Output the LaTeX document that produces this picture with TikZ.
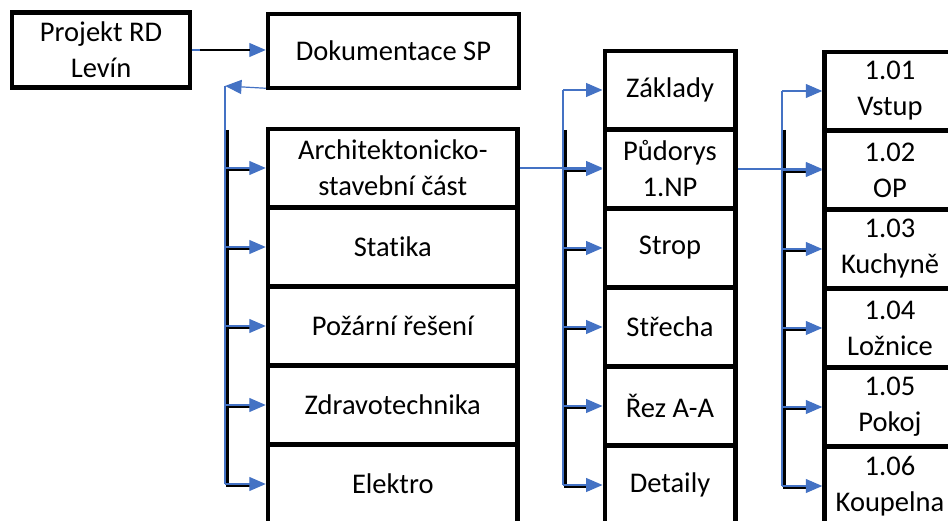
\documentclass[tikz,border=0pt]{standalone}
\usepackage{fontspec}
\setmainfont{Carlito}[Ligatures=NoCommon]
\usepackage{xcolor}
\usetikzlibrary{calc,
	positioning,
	arrows.meta}
\definecolor{linkblue}{HTML}{4472C4}

\begin{document}
\begin{tikzpicture}[x=1pt, y=-1pt,
                    box/.style={draw, line width=4.5pt, align=center, inner sep=0pt, font=\fontsize{28.5}{36}\selectfont},
                    link/.style={draw=linkblue, line width=1.2pt, -{Triangle[length=16.5pt,width=14pt,fill=linkblue]}},
                    trunk/.style={draw=linkblue, line width=1.2pt},
                    under/.style={draw=black, line width=2.6pt}]
                            \useasboundingbox (0,0) rectangle (948,521);
                            \node (proj) [box, minimum width=178pt, minimum height=75pt] at (101,50) {Projekt RD\\Levín};
                            \node (dok) [box, minimum width=251pt, minimum height=74pt] at (393.5,51) {Dokumentace SP};
                            \foreach \name/\txt [count=\i from 0] in {arch/{Architektonicko-\\stavební část}, statika/Statika, pozar/Požární řešení, zdravo/Zdravotechnika, elektro/Elektro}
                                \node (\name) [box, minimum width=249.5pt, minimum height=78pt] at (392.75,168+79*\i) {\txt};
                            \foreach \name/\txt [count=\i from 0] in {zaklady/Základy, pudorys/{Půdorys\\1.NP}, strop/Strop, strecha/Střecha, rez/Řez A-A, detaily/Detaily}
                                \node (\name) [box, minimum width=130.5pt, minimum height=78pt] at (670,90+79*\i) {\txt};
                            \foreach \num/\txt [count=\i from 0] in {01/Vstup, 02/OP, 03/Kuchyně, 04/Ložnice, 05/Pokoj, 06/Koupelna}
                                \node (m1\num) [box, minimum width=131pt, minimum height=78pt] at (890,91+79*\i) {1.\num\\\txt};
                            % top level
                            \draw[link] (proj.east) -- (proj.east -| dok.west);
                            \draw[under] ($(proj.east)+(8,0)$) -- ($(proj.east -| dok.west)+(-16,0)$);
                            % first column
                            \coordinate (trunkA) at (225,86);
                            \coordinate (blackA) at (227.5,130);
                            \draw[under] (blackA) -- ($(blackA |- elektro.west)+(0,3)$);
                            \foreach \name in {arch, statika, pozar, zdravo, elektro}
                                \draw[under] ($(blackA |- \name.west)+(0,2)$) -- ($(\name.west)+(-16,2)$);
                            \draw[link] ([yshift=2pt]dok.south west) -- (trunkA);
                            \draw[trunk] (trunkA) -- (trunkA |- elektro.west);
                            \foreach \name in {arch, statika, pozar, zdravo, elektro}
                                \draw[link] (trunkA |- \name.west) -- (\name.west);
                            % second column
                            \coordinate (trunkB) at (563,90);
                            \coordinate (blackB) at (565.5,130);
                            \draw[under] (blackB) -- ($(blackB |- detaily.west)+(0,3)$);
                            \foreach \name in {pudorys, strop, strecha, rez, detaily}
                                \draw[under] ($(blackB |- \name.west)+(0,2)$) -- ($(\name.west)+(-16,2)$);
                            \draw[trunk] (trunkB |- zaklady.west) -- (trunkB |- detaily.west);
                            \foreach \name in {zaklady, pudorys, strop, strecha, rez, detaily}
                                \draw[link] (trunkB |- \name.west) -- (\name.west);
                            \draw[link] (arch.east) -- (arch.east -| pudorys.west);
                            % third column
                            \coordinate (trunkC) at (782,90);
                            \coordinate (blackC) at (784.5,130);
                            \draw[under] (blackC) -- ($(blackC |- m106.west)+(0,3)$);
                            \foreach \name in {m102, m103, m104, m105, m106}
                                \draw[under] ($(blackC |- \name.west)+(0,2)$) -- ($(\name.west)+(-16,2)$);
                            \draw[trunk] (trunkC |- m101.west) -- (trunkC |- m106.west);
                            \foreach \name in {m101, m102, m103, m104, m105, m106}
                                \draw[link] (trunkC |- \name.west) -- (\name.west);
                            \draw[link] (pudorys.east) -- (pudorys.east -| m102.west);
                        \end{tikzpicture}
\end{document}
